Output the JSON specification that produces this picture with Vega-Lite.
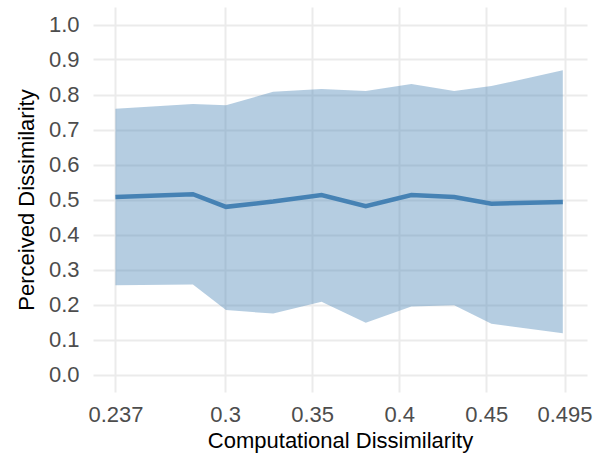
{
  "$schema": "https://vega.github.io/schema/vega-lite/v6.json",
  "width": 494,
  "height": 385,
  "autosize": {"type": "none"},
  "padding": {"left": 93, "top": 7, "right": 9, "bottom": 67},
  "background": "white",
  "config": {
    "view": {"stroke": null},
    "font": "Liberation Sans",
    "axis": {"domain": false, "ticks": false, "gridColor": "#EBEBEB", "labelColor": "#4D4D4D", "titleColor": "#000000", "labelFont": "Liberation Sans", "titleFont": "Liberation Sans", "titleFontWeight": "normal", "labelFlush": false, "labelOverlap": false}
  },
  "data": {
    "values": [
      {"x": 0.237, "mean": 0.507, "lower": 0.255, "upper": 0.759},
      {"x": 0.2815, "mean": 0.515, "lower": 0.257, "upper": 0.773},
      {"x": 0.3005, "mean": 0.479, "lower": 0.184, "upper": 0.769},
      {"x": 0.3276, "mean": 0.494, "lower": 0.174, "upper": 0.808},
      {"x": 0.3554, "mean": 0.513, "lower": 0.208, "upper": 0.816},
      {"x": 0.3808, "mean": 0.481, "lower": 0.148, "upper": 0.810},
      {"x": 0.407, "mean": 0.513, "lower": 0.194, "upper": 0.830},
      {"x": 0.4316, "mean": 0.507, "lower": 0.198, "upper": 0.810},
      {"x": 0.453, "mean": 0.488, "lower": 0.145, "upper": 0.824},
      {"x": 0.494, "mean": 0.493, "lower": 0.118, "upper": 0.869}
    ]
  },
  "resolve": {"axis": {"x": "independent", "y": "independent"}},
  "layer": [
    {
      "mark": {"type": "area", "color": "#4682B4", "opacity": 0.4},
      "encoding": {
        "x": {"field": "x", "type": "quantitative",
          "scale": {"domain": [0.2241, 0.5079], "nice": false, "zero": false},
          "axis": {"values": [0.237, 0.3, 0.35, 0.4, 0.45, 0.495], "format": ".3~f", "title": "Computational Dissimilarity", "orient": "bottom", "gridWidth": 2, "labelFontSize": 22, "titleFontSize": 22, "labelPadding": 12, "titlePadding": 5}},
        "y": {"field": "lower", "type": "quantitative",
          "scale": {"domain": [-0.05, 1.05], "nice": false, "zero": false},
          "axis": {"values": [0, 0.1, 0.2, 0.3, 0.4, 0.5, 0.6, 0.7, 0.8, 0.9, 1.0], "format": ".1f", "title": "Perceived Dissimilarity", "orient": "left", "gridWidth": 2, "labelFontSize": 22, "titleFontSize": 22, "labelPadding": 14, "titlePadding": 10}},
        "y2": {"field": "upper"}
      }
    },
    {
      "mark": {"type": "line", "color": "#4682B4", "strokeWidth": 4.5},
      "encoding": {
        "x": {"field": "x", "type": "quantitative",
          "axis": {"values": [0.2685, 0.325, 0.375, 0.425, 0.4725], "labels": false, "title": null, "orient": "top", "gridWidth": 1}},
        "y": {"field": "mean", "type": "quantitative",
          "axis": {"values": [-0.05, 0.05, 0.15, 0.25, 0.35, 0.45, 0.55, 0.65, 0.75, 0.85, 0.95, 1.05], "labels": false, "title": null, "orient": "right", "gridWidth": 1}}
      }
    }
  ]
}
